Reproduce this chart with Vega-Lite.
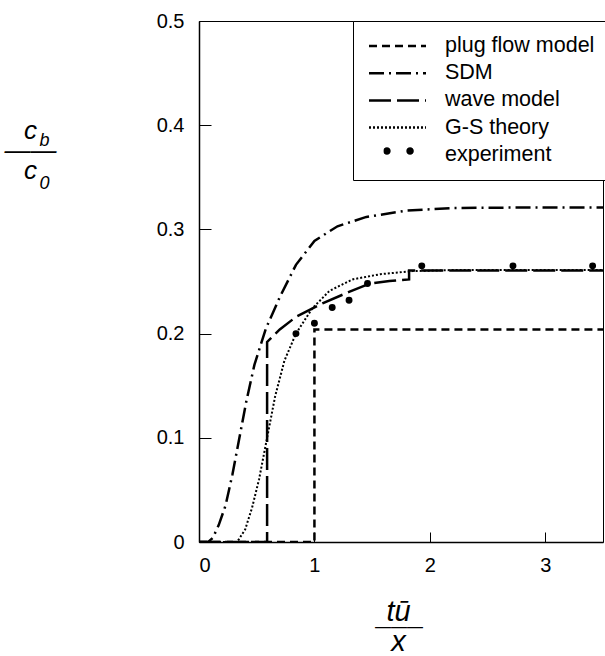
{
  "$schema": "https://vega.github.io/schema/vega-lite/v6.json",
  "width": 404,
  "height": 521,
  "autosize": {"type": "none"},
  "padding": {"left": 199, "top": 21, "right": 2, "bottom": 114},
  "background": "white",
  "config": {
    "font": "Liberation Sans",
    "view": {"stroke": "black", "strokeWidth": 1},
    "axis": {"grid": false, "domainColor": "black", "domainWidth": 1.5, "tickColor": "black", "tickWidth": 1, "labelColor": "black", "titleColor": "black"}
  },
  "data": {
    "values": [
      {"series": "plug flow model", "x": 0, "y": 0},
      {"series": "plug flow model", "x": 1.0, "y": 0},
      {"series": "plug flow model", "x": 1.0, "y": 0.204},
      {"series": "plug flow model", "x": 3.5, "y": 0.204},

      {"series": "SDM", "x": 0, "y": 0},
      {"series": "SDM", "x": 0.08, "y": 0},
      {"series": "SDM", "x": 0.12, "y": 0.004},
      {"series": "SDM", "x": 0.17, "y": 0.016},
      {"series": "SDM", "x": 0.23, "y": 0.035},
      {"series": "SDM", "x": 0.29, "y": 0.065},
      {"series": "SDM", "x": 0.35, "y": 0.1},
      {"series": "SDM", "x": 0.41, "y": 0.135},
      {"series": "SDM", "x": 0.48, "y": 0.17},
      {"series": "SDM", "x": 0.58, "y": 0.205},
      {"series": "SDM", "x": 0.7, "y": 0.235},
      {"series": "SDM", "x": 0.84, "y": 0.266},
      {"series": "SDM", "x": 1.0, "y": 0.289},
      {"series": "SDM", "x": 1.2, "y": 0.303},
      {"series": "SDM", "x": 1.45, "y": 0.312},
      {"series": "SDM", "x": 1.8, "y": 0.318},
      {"series": "SDM", "x": 2.2, "y": 0.3205},
      {"series": "SDM", "x": 2.8, "y": 0.321},
      {"series": "SDM", "x": 3.5, "y": 0.321},

      {"series": "wave model", "x": 0, "y": 0},
      {"series": "wave model", "x": 0.59, "y": 0},
      {"series": "wave model", "x": 0.59, "y": 0.192},
      {"series": "wave model", "x": 0.7, "y": 0.204},
      {"series": "wave model", "x": 0.84, "y": 0.216},
      {"series": "wave model", "x": 1.07, "y": 0.229},
      {"series": "wave model", "x": 1.3, "y": 0.24},
      {"series": "wave model", "x": 1.48, "y": 0.248},
      {"series": "wave model", "x": 1.65, "y": 0.2505},
      {"series": "wave model", "x": 1.82, "y": 0.252},
      {"series": "wave model", "x": 1.82, "y": 0.2605},
      {"series": "wave model", "x": 3.5, "y": 0.2605},

      {"series": "G-S theory", "x": 0, "y": 0},
      {"series": "G-S theory", "x": 0.33, "y": 0},
      {"series": "G-S theory", "x": 0.4, "y": 0.012},
      {"series": "G-S theory", "x": 0.46, "y": 0.033},
      {"series": "G-S theory", "x": 0.52, "y": 0.06},
      {"series": "G-S theory", "x": 0.59, "y": 0.1},
      {"series": "G-S theory", "x": 0.66, "y": 0.14},
      {"series": "G-S theory", "x": 0.74, "y": 0.174},
      {"series": "G-S theory", "x": 0.84, "y": 0.2},
      {"series": "G-S theory", "x": 0.98, "y": 0.224},
      {"series": "G-S theory", "x": 1.13, "y": 0.241},
      {"series": "G-S theory", "x": 1.33, "y": 0.252},
      {"series": "G-S theory", "x": 1.57, "y": 0.257},
      {"series": "G-S theory", "x": 1.85, "y": 0.26},
      {"series": "G-S theory", "x": 2.2, "y": 0.261},
      {"series": "G-S theory", "x": 3.5, "y": 0.261},

      {"series": "experiment", "x": 0.84, "y": 0.2},
      {"series": "experiment", "x": 1.0, "y": 0.21},
      {"series": "experiment", "x": 1.154, "y": 0.225},
      {"series": "experiment", "x": 1.3, "y": 0.232},
      {"series": "experiment", "x": 1.46, "y": 0.248},
      {"series": "experiment", "x": 1.93, "y": 0.265},
      {"series": "experiment", "x": 2.72, "y": 0.265},
      {"series": "experiment", "x": 3.41, "y": 0.265}
    ]
  },
  "layer": [
    {
      "transform": [{"filter": "datum.series !== 'experiment'"}],
      "mark": {"type": "line", "color": "black", "clip": true},
      "encoding": {
        "x": {
          "field": "x", "type": "quantitative",
          "scale": {"domain": [0, 3.5], "nice": false, "zero": false},
          "axis": {
            "orient": "bottom", "values": [0, 1, 2, 3], "format": "d",
            "tickSize": -10, "labelFontSize": 20, "labelPadding": 23,
            "title": ["tū", "x"], "titleFontSize": 29, "titleFontStyle": "italic", "titleFontWeight": "normal",
            "titleAngle": 0, "titleAlign": "center", "titleBaseline": "alphabetic", "titleLineHeight": 30.5,
            "titleX": 199, "titleY": 78
          }
        },
        "y": {
          "field": "y", "type": "quantitative",
          "scale": {"domain": [0, 0.5], "nice": false, "zero": false},
          "axis": {
            "orient": "left", "values": [0, 0.1, 0.2, 0.3, 0.4, 0.5],
            "labelExpr": "datum.value == 0 ? '0' : format(datum.value, '.1f')",
            "tickSize": -12, "labelFontSize": 20, "labelPadding": 27,
            "title": ["c\u2002", "——", "c\u2002"], "titleFontSize": 26, "titleFontStyle": "italic", "titleFontWeight": "normal",
            "titleAngle": 0, "titleAlign": "center", "titleBaseline": "alphabetic", "titleLineHeight": 20,
            "titleX": -169, "titleY": 117
          }
        },
        "strokeDash": {
          "field": "series", "type": "nominal",
          "scale": {
            "domain": ["plug flow model", "SDM", "wave model", "G-S theory", "experiment"],
            "range": [[8, 5], [15, 5, 2, 5], [22, 6], [2, 2], [0, 100]]
          },
          "legend": {
            "title": null, "orient": "none", "legendX": 154, "legendY": 0, "zindex": 0,
            "strokeColor": "black", "fillColor": "white", "padding": 14.5,
            "symbolType": "stroke", "symbolSize": 3249, "symbolStrokeColor": "black", "symbolStrokeWidth": 2.5,
            "labelFontSize": 21.5, "labelColor": "black", "labelOffset": 17.5, "labelLimit": 0,
            "rowPadding": 5.2, "clipHeight": 21
          }
        },
        "strokeWidth": {"condition": {"test": "datum.series === 'G-S theory'", "value": 2}, "value": 2.5}
      }
    },
    {
      "transform": [{"filter": "datum.series === 'experiment'"}],
      "mark": {"type": "point", "filled": true, "shape": "circle", "size": 48, "opacity": 1},
      "encoding": {
        "x": {
          "field": "x", "type": "quantitative",
          "axis": {
            "orient": "bottom", "domain": false, "ticks": false, "labels": false,
            "title": "———", "titleFontSize": 16, "titleFontWeight": "normal",
            "titleAngle": 0, "titleAlign": "center", "titleBaseline": "alphabetic",
            "titleX": 199.5, "titleY": 89
          }
        },
        "y": {
          "field": "y", "type": "quantitative",
          "axis": {
            "orient": "left", "domain": false, "ticks": false, "labels": false,
            "title": ["b", "0"], "titleFontSize": 18, "titleFontStyle": "italic", "titleFontWeight": "normal",
            "titleAngle": 0, "titleAlign": "center", "titleBaseline": "alphabetic", "titleLineHeight": 43,
            "titleX": -155, "titleY": 124
          }
        },
        "fill": {
          "field": "series", "type": "nominal",
          "scale": {"domain": ["experiment"], "range": ["black"]},
          "legend": {
            "title": null, "orient": "none", "legendX": 184.5, "legendY": 119.5, "zindex": 1,
            "padding": 0, "strokeColor": null, "fillColor": null,
            "symbolType": "M-1.021,0a0.25,0.25 0 1,0 0.5,0a0.25,0.25 0 1,0 -0.5,0M0.521,0a0.25,0.25 0 1,0 0.5,0a0.25,0.25 0 1,0 -0.5,0",
            "symbolSize": 900, "symbolStrokeWidth": 0, "symbolOpacity": 1,
            "labelExpr": "''", "labelFontSize": 1, "clipHeight": 21
          }
        }
      }
    }
  ],
  "resolve": {"axis": {"x": "independent", "y": "independent"}}
}
